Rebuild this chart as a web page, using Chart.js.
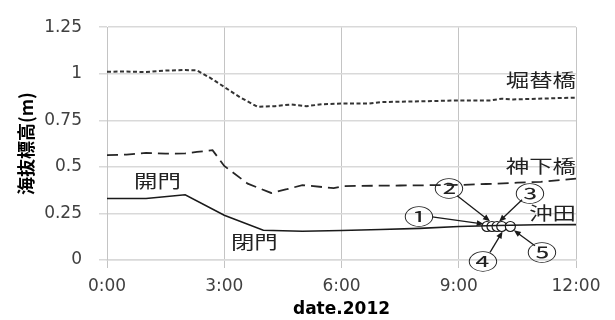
<!DOCTYPE html>
<html>
<head>
<meta charset="utf-8">
<script src="https://cdn.jsdelivr.net/npm/chart.js@4.4.1/dist/chart.umd.min.js"></script>
<style>
  html, body { margin: 0; padding: 0; background: #fff; }
  canvas { display: block; }
</style>
</head>
<body>
<canvas id="chart" width="615" height="320"></canvas>
<script>
// axis ticks (time in hours, level in m)
const xTickHours = [0, 3, 6, 9, 12];
const xTickLabels = ["0:00", "3:00", "6:00", "9:00", "12:00"];
const yTicks = [0, 0.25, 0.5, 0.75, 1, 1.25];
const yTickLabels = ["0", "0.25", "0.5", "0.75", "1", "1.25"];

// 堀替橋
const horikaeHours = [0, 0.5, 1.0, 1.5, 2.0, 2.3, 2.65, 3.0, 3.4, 3.85, 4.3, 4.7, 5.1, 5.5, 6.0, 6.7, 7.0, 8.0, 9.0, 9.8, 10.1, 10.4, 11.0, 12.0];
const horikaeLevels = [1.011, 1.012, 1.009, 1.017, 1.02, 1.018, 0.977, 0.929, 0.874, 0.823, 0.826, 0.835, 0.826, 0.836, 0.84, 0.84, 0.848, 0.852, 0.857, 0.857, 0.866, 0.862, 0.866, 0.872];

// 神下橋
const kamishitaHours = [0, 0.5, 1.0, 1.5, 2.0, 2.3, 2.7, 3.0, 3.6, 4.2, 4.6, 5.0, 5.8, 6.05, 7.5, 9.0, 9.7, 10.5, 11.1, 12.0];
const kamishitaLevels = [0.563, 0.566, 0.575, 0.571, 0.572, 0.58, 0.59, 0.505, 0.41, 0.36, 0.38, 0.402, 0.386, 0.397, 0.40, 0.403, 0.408, 0.415, 0.42, 0.437];

// 沖田
const okitaHours = [0, 1, 2, 3, 4, 5, 6, 7, 8, 9, 10, 11, 12];
const okitaLevels = [0.33, 0.33, 0.35, 0.24, 0.16, 0.154, 0.158, 0.164, 0.17, 0.18, 0.185, 0.189, 0.19];

// 観測点 ①〜⑤
const pointHours = [9.72, 9.85, 9.98, 10.1, 10.32];
const pointLevels = [0.18, 0.18, 0.18, 0.18, 0.18];
const pointNames = ["①", "②", "③", "④", "⑤"];

const xy = (hs, vs) => hs.map((h, i) => ({ x: h, y: vs[i] }));

// where the callouts sit, in axis units
const calloutPos = [
  { label: [7.98, 0.237], from: [8.32, 0.231] },
  { label: [8.75, 0.386], from: [8.96, 0.345] },
  { label: [10.82, 0.36], from: [10.62, 0.324] },
  { label: [9.62, -0.005], from: [9.80, 0.041] },
  { label: [11.13, 0.041], from: [10.95, 0.077] }
];
const arrowEnds = [[9.64, 0.193], [9.80, 0.208], [10.03, 0.206], [10.12, 0.153], [10.41, 0.16]];
const textNotes = [
  { text: "堀替橋", at: [12, 0.967], align: "right" },
  { text: "神下橋", at: [12, 0.504], align: "right" },
  { text: "沖田", at: [12, 0.249], align: "right" },
  { text: "開門", at: [1.29, 0.424], align: "center" },
  { text: "閉門", at: [3.77, 0.098], align: "center" }
];

const jpFont = '"Noto Sans CJK JP", "Noto Sans", sans-serif';

function wideText(ctx, text, x, y, align, sx) {
  ctx.save();
  ctx.translate(x, y);
  ctx.scale(sx, 1);
  ctx.textAlign = align;
  ctx.textBaseline = 'middle';
  ctx.fillText(text, 0, 0);
  ctx.restore();
}

const notes = {
  id: 'notes',
  afterDatasetsDraw(chart) {
    const ctx = chart.ctx;
    const px = h => chart.scales.x.getPixelForValue(h);
    const py = v => chart.scales.y.getPixelForValue(v);
    ctx.save();
    ctx.strokeStyle = '#1a1a1a';
    ctx.fillStyle = '#1a1a1a';
    ctx.lineWidth = 1.3;
    calloutPos.forEach((c, i) => {
      const x0 = px(c.from[0]), y0 = py(c.from[1]);
      const x1 = px(arrowEnds[i][0]), y1 = py(arrowEnds[i][1]);
      const a = Math.atan2(y1 - y0, x1 - x0);
      const ca = Math.cos(a), sa = Math.sin(a);
      ctx.beginPath();
      ctx.moveTo(x0, y0);
      ctx.lineTo(x1 - 5 * ca, y1 - 5 * sa);
      ctx.stroke();
      ctx.beginPath();
      ctx.moveTo(x1, y1);
      ctx.lineTo(x1 - 7 * ca + 3 * sa, y1 - 7 * sa - 3 * ca);
      ctx.lineTo(x1 - 7 * ca - 3 * sa, y1 - 7 * sa + 3 * ca);
      ctx.closePath();
      ctx.fill();
    });
    ctx.fillStyle = '#222';
    ctx.font = '21px ' + jpFont;
    calloutPos.forEach((c, i) => {
      wideText(ctx, pointNames[i], px(c.label[0]), py(c.label[1]), 'center', 1.45);
    });
    ctx.font = '18px ' + jpFont;
    textNotes.forEach(n => {
      wideText(ctx, n.text, px(n.at[0]), py(n.at[1]), n.align, 1.3);
    });
    ctx.restore();
  }
};

new Chart(document.getElementById('chart'), {
  type: 'line',
  data: {
    datasets: [
      {
        label: '堀替橋',
        data: xy(horikaeHours, horikaeLevels),
        borderColor: '#333',
        borderWidth: 2,
        borderDash: [4, 2.5],
        pointRadius: 0,
        tension: 0
      },
      {
        label: '神下橋',
        data: xy(kamishitaHours, kamishitaLevels),
        borderColor: '#262626',
        borderWidth: 1.8,
        borderDash: [11, 6],
        pointRadius: 0,
        tension: 0
      },
      {
        label: '沖田',
        data: xy(okitaHours, okitaLevels),
        borderColor: '#1a1a1a',
        borderWidth: 1.6,
        pointRadius: 0,
        tension: 0
      },
      {
        label: '観測点',
        data: xy(pointHours, pointLevels),
        showLine: false,
        pointStyle: 'circle',
        pointRadius: 5,
        pointBorderWidth: 1.2,
        pointBorderColor: '#1a1a1a',
        pointBackgroundColor: '#fff'
      }
    ]
  },
  options: {
    responsive: false,
    animation: false,
    layout: { padding: { top: 17, right: 39, left: 0, bottom: 0 } },
    plugins: { legend: { display: false }, tooltip: { enabled: false } },
    scales: {
      x: {
        type: 'linear',
        min: 0,
        max: 12,
        afterBuildTicks: s => { s.ticks = xTickHours.map(v => ({ value: v })); },
        afterFit: s => { s.height = 60; },
        ticks: {
          callback: v => xTickLabels[xTickHours.indexOf(v)],
          font: { family: 'DejaVu Sans', size: 17 },
          color: '#404040',
          padding: 8,
          maxRotation: 0
        },
        grid: { color: '#c4c4c4', lineWidth: 1, tickLength: 8 },
        border: { color: '#d9d9d9', width: 1.5 },
        title: {
          display: true,
          text: 'date.2012',
          font: { family: 'DejaVu Sans', size: 17, weight: 'bold' },
          color: '#000',
          padding: { top: 0, bottom: 0 }
        }
      },
      y: {
        min: 0,
        max: 1.25,
        afterBuildTicks: s => { s.ticks = yTicks.map(v => ({ value: v })); },
        afterFit: s => { s.width = 107; },
        ticks: {
          callback: v => yTickLabels[yTicks.indexOf(v)],
          font: { family: 'DejaVu Sans', size: 17 },
          color: '#404040',
          padding: 17
        },
        grid: { color: '#d9d9d9', lineWidth: 1.5, tickLength: 8 },
        border: { color: '#c4c4c4', width: 1 },
        title: {
          display: true,
          text: '海抜標高(m)',
          font: { family: 'Noto Sans CJK JP', size: 18, weight: 'bold' },
          color: '#000',
          padding: { top: 15, bottom: 0 }
        }
      }
    }
  },
  plugins: [notes]
});
</script>
</body>
</html>
